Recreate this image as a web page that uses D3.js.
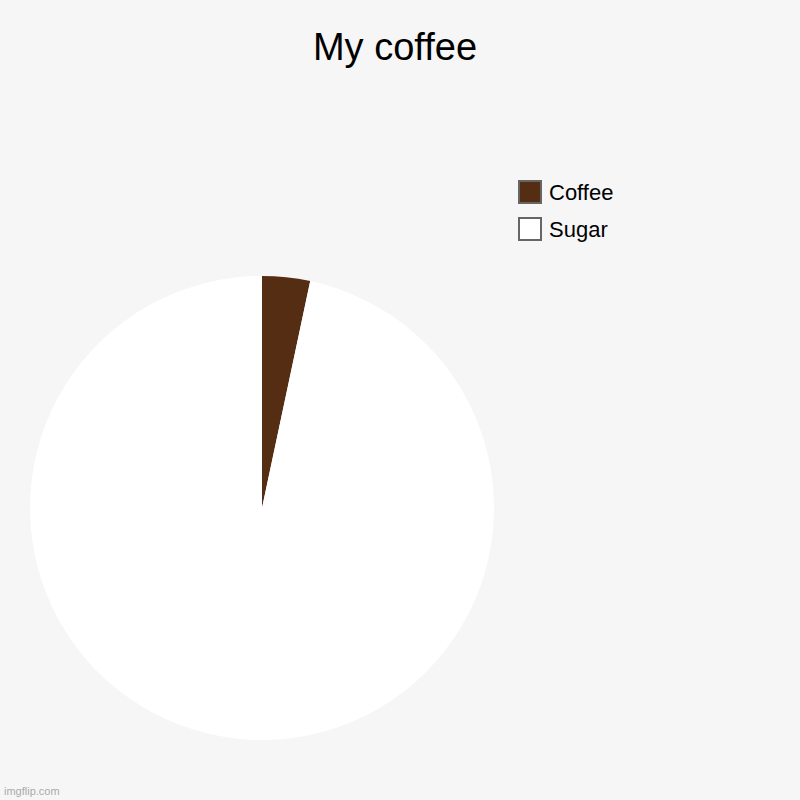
<!DOCTYPE html>
<html>
<head>
<meta charset="utf-8">
<script src="https://cdn.jsdelivr.net/npm/d3@7"></script>
<style>
  html, body { margin: 0; padding: 0; background: #f6f6f6; }
  svg { display: block; font-family: "Liberation Sans", Arial, sans-serif; }
</style>
</head>
<body>
<div id="chart"></div>
<script>
const categories = ["Coffee", "Sugar"]
const values = [1, 29]
const colors = ["#542d12", "#ffffff"]

const width = 800
const height = 800

const svg = d3.select("#chart")
  .append("svg")
  .attr("width", width)
  .attr("height", height)

svg.append("rect")
  .attr("width", width)
  .attr("height", height)
  .attr("fill", "#f6f6f6")

svg.append("text")
  .attr("x", 395)
  .attr("y", 60)
  .attr("text-anchor", "middle")
  .attr("font-size", "38px")
  .attr("fill", "#000")
  .text("My coffee")

const color = d3.scaleOrdinal().domain(categories).range(colors)

const pie = d3.pie().sort(null).value(d => d.value)
const arc = d3.arc().innerRadius(0).outerRadius(232)

const data = categories.map((c, i) => ({ name: c, value: values[i] }))

const g = svg.append("g").attr("transform", "translate(262,508)")

g.selectAll("path")
  .data(pie(data))
  .join("path")
  .attr("d", arc)
  .attr("fill", d => color(d.data.name))

// legend
const legend = svg.append("g").attr("transform", "translate(519,181)")

const item = legend.selectAll("g")
  .data(categories)
  .join("g")
  .attr("transform", (d, i) => `translate(0,${i * 37})`)

item.append("rect")
  .attr("width", 22)
  .attr("height", 22)
  .attr("fill", d => color(d))
  .attr("stroke", "#666")
  .attr("stroke-width", 2)

item.append("text")
  .attr("x", 30)
  .attr("y", 19)
  .attr("font-size", "22px")
  .attr("fill", "#000")
  .text(d => d)

svg.append("text")
  .attr("x", 4)
  .attr("y", 795)
  .attr("font-size", "11px")
  .attr("fill", "#aaa")
  .text("imgflip.com")
</script>
</body>
</html>
